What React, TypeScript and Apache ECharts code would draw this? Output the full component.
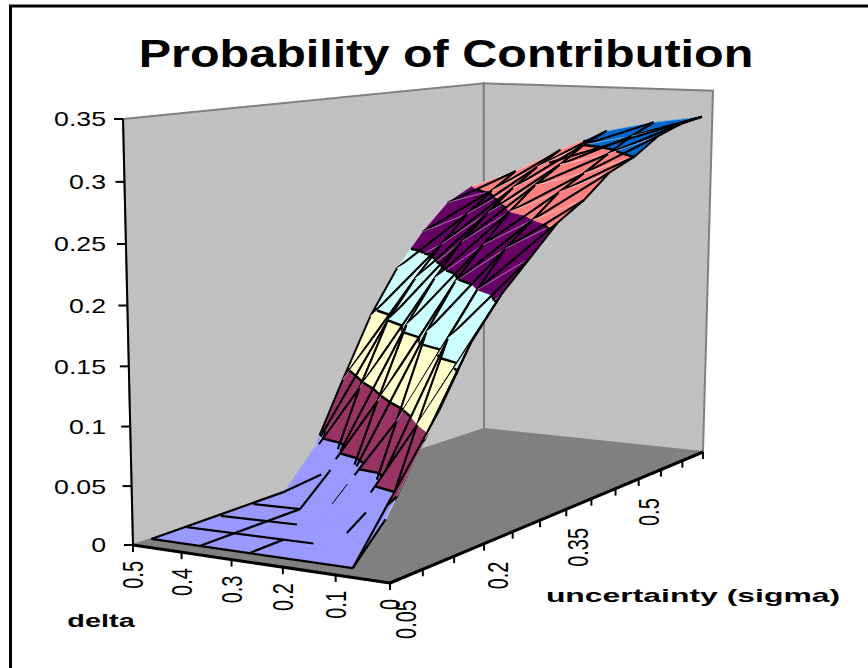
import React, { useEffect, useRef } from "react";
import * as echarts from "echarts";

// Surface samples: one list per delta, one value per sigma.
const sigmaCategories = [0.05, 0.1, 0.15, 0.2, 0.25, 0.3, 0.35, 0.4, 0.45, 0.5, 0.55, 0.6];
const sigmaLabels = ["0.05", "0.2", "0.35", "0.5"];
const deltaTicks = ["0.5", "0.4", "0.3", "0.2", "0.1", "0"];
const valueTicks = ["0", "0.05", "0.1", "0.15", "0.2", "0.25", "0.3", "0.35"];

const delta050 = [0, 0, 0, 0.001, 0.003, 0.035, 0.091, 0.144, 0.184, 0.214, 0.238, 0.25];
const delta040 = [0, 0, 0.001, 0.002, 0.028, 0.095, 0.15, 0.183, 0.21, 0.234, 0.252, 0.267];
const delta030 = [0, 0.001, 0.004, 0.03, 0.095, 0.156, 0.192, 0.22, 0.242, 0.261, 0.277, 0.29];
const delta020 = [0, 0.001, 0.02, 0.09, 0.16, 0.198, 0.225, 0.25, 0.27, 0.285, 0.3, 0.31];
const delta010 = [0, 0.03, 0.1, 0.165, 0.2, 0.23, 0.25, 0.27, 0.283, 0.297, 0.31, 0.32];
const delta000 = [null, 0.125, 0.172, 0.205, 0.23, 0.255, 0.27, 0.29, 0.3, 0.315, 0.323, 0.327];
const surface: (number | null)[][] = [delta050, delta040, delta030, delta020, delta010, delta000];

const bandColors = ["#9999FF", "#993366", "#FFFFCC", "#CCFFFF", "#660066", "#FF8080", "#0066CC"];
const bandStep = 0.05;

// Wire lines on the low part of the surface and along its far edge:
// [delta from, sigma from, delta to, sigma to, start fraction, end fraction, width], in grid indices.
const wireLines = [
  [0, 0, 4, 0, 0, 1, 2.2],
  [0, 0, 0, 4, 0, 1, 2.2],
  [1, 0, 1, 3, 0, 1, 2.2],
  [1, 3, 1, 4, 0, 1, 2.2],
  [0, 4, 1, 4, 0, 0.8, 2.2],
  [2, 0, 2, 1, 0, 1, 2.2],
  [0, 1, 2, 1, 0, 1.3, 2.2],
  [0, 2, 1, 2, 0, 1.6, 2.2],
  [0, 3, 1, 3, 0, 1, 2.2],
  [4, 0, 4, 1, 0, 1, 2.2],
  [4, 0, 5, 1, 0, 0.45, 2.2],
  [3, 1, 3, 2, 0.4, 1, 2.2],
  [2, 2, 2, 3, 0.5, 1, 1],
  [0, 11, 5, 11, 0.35, 1, 2.2],
];

const WIDTH = 868;
const HEIGHT = 668;

// Box corners of the 3D plot on the page.
const FRONT = [390, 583];
const RIGHT = [703, 452];
const BACK = [484, 429];
const LEFT = [133, 545];
const VERTICAL_VANISH = [393, 11634];
const LEFT_TOP_Y = 119;
const VALUE_MAX = 0.35;
const LINE_FLOOR = 0.045;

function makeProjection() {
  const [x0, y0] = FRONT, [x1, y1] = RIGHT, [x2, y2] = BACK, [x3, y3] = LEFT;
  const dx1 = x1 - x2, dx2 = x3 - x2, sx = x0 - x1 + x2 - x3;
  const dy1 = y1 - y2, dy2 = y3 - y2, sy = y0 - y1 + y2 - y3;
  const den = dx1 * dy2 - dx2 * dy1;
  const g = (sx * dy2 - dx2 * sy) / den;
  const h = (dx1 * sy - sx * dy1) / den;
  const a = x1 - x0 + g * x1, b = x3 - x0 + h * x3, c = x0;
  const d = y1 - y0 + g * y1, e = y3 - y0 + h * y3, f = y0;
  const k = (LEFT_TOP_Y * (h + 1) - (e + f)) / (VERTICAL_VANISH[1] - LEFT_TOP_Y) / VALUE_MAX;
  return (u: number, v: number, w: number) => {
    // Height gain varies slightly over the floor, so the wall tops meet their corners.
    const kw = k * w * (0.99 + 0.027 * u + 0.01 * v);
    const W = g * u + h * v + 1 + kw;
    return [
      (a * u + b * v + c + kw * VERTICAL_VANISH[0]) / W - (3 * u * v * w) / VALUE_MAX,
      (d * u + e * v + f + kw * VERTICAL_VANISH[1]) / W,
    ];
  };
}
const project = makeProjection();

// Grid index to box coordinates: sigma cells are centred between ticks, delta sits on its ticks.
const sigmaPos = (s: number) => (s + 0.5) / sigmaCategories.length;
const deltaPos = (d: number) => 1 - d / (deltaTicks.length - 1);

type Vertex = { d: number; s: number; w: number };
const vertex = (d: number, s: number): Vertex | null => {
  const w = surface[d][s];
  return w === null ? null : { d, s, w };
};
const mix = (p: Vertex, q: Vertex, t: number): Vertex => ({
  d: p.d + (q.d - p.d) * t,
  s: p.s + (q.s - p.s) * t,
  w: p.w + (q.w - p.w) * t,
});

function clip(poly: Vertex[], level: number, keepAbove: boolean) {
  const out: Vertex[] = [];
  poly.forEach((p, i) => {
    const q = poly[(i + 1) % poly.length];
    const pIn = keepAbove ? p.w >= level : p.w <= level;
    const qIn = keepAbove ? q.w >= level : q.w <= level;
    if (pIn) out.push(p);
    if (pIn !== qIn) out.push(mix(p, q, (level - p.w) / (q.w - p.w)));
  });
  return out;
}

// Triangles from the farthest cell to the nearest, so that near cells overpaint far ones.
type Tri = { a: Vertex; b: Vertex; c: Vertex };
const triangles: Tri[] = [];
for (let s = sigmaCategories.length - 2; s >= 0; s--) {
  for (let d = 0; d < deltaTicks.length - 1; d++) {
    const p00 = vertex(d, s), p10 = vertex(d + 1, s), p01 = vertex(d, s + 1), p11 = vertex(d + 1, s + 1);
    if (p00 && p01 && p11) triangles.push({ a: p00, b: p01, c: p11 });
    if (p00 && p10 && p11) triangles.push({ a: p00, b: p11, c: p10 });
  }
}

export default function App() {
  const ref = useRef<HTMLDivElement>(null);

  useEffect(() => {
    document.body.style.margin = "0";
    const chart = echarts.init(ref.current!, undefined, { renderer: "svg" });

    const pt = (u: number, v: number, w: number) => project(u, v, w);
    const poly = (points: number[][], fill: string, stroke?: string, lineWidth = 2) => ({
      type: "polygon",
      shape: { points },
      style: { fill, stroke: stroke ?? "none", lineWidth },
    });
    const seg = (p: number[], q: number[], stroke = "#000", lineWidth = 2) => ({
      type: "line",
      shape: { x1: p[0], y1: p[1], x2: q[0], y2: q[1] },
      style: { stroke, lineWidth },
    });
    const txt = (text: string, x: number, y: number, font: string, align: string, extra: object = {}) => ({
      type: "text",
      x,
      y,
      style: { text, font, fill: "#000", textAlign: align, textVerticalAlign: "middle" },
      ...extra,
    });

    const labelFont = '21px "Liberation Sans"';
    const sideFont = '20px "Liberation Sans"';
    const boldSmall = 'bold 19px "Liberation Sans"';

    const frame: any[] = [
      seg([9, 6], [WIDTH, 6], "#000", 3),
      seg([10.5, 5], [10.5, HEIGHT], "#000", 3),
      poly([pt(0, 1, VALUE_MAX), pt(1, 1, VALUE_MAX), pt(1, 1, 0), pt(0, 1, 0)], "#C0C0C0", "#808080"),
      poly([pt(1, 1, VALUE_MAX), pt(1, 0, VALUE_MAX), pt(1, 0, 0), pt(1, 1, 0)], "#C0C0C0", "#808080"),
      poly([pt(0, 1, 0), pt(1, 1, 0), pt(1, 0, 0), pt(0, 0, 0)], "#808080", "#808080", 1),
      txt("Probability of Contribution", 446, 53, 'bold 39px "Liberation Sans"', "center", { scaleX: 1.245 }),
      txt("delta", 101, 620, boldSmall, "center", { scaleX: 1.52 }),
      txt("uncertainty (sigma)", 693, 595, boldSmall, "center", { scaleX: 1.68 }),
    ];

    // Value axis, up the left edge of the box.
    const left = pt(0, 1, 0), leftTop = pt(0, 1, VALUE_MAX);
    frame.push(seg(left, leftTop));
    valueTicks.forEach((label) => {
      const p = pt(0, 1, Number(label));
      frame.push(seg([p[0] - 9, p[1]], p));
      frame.push(txt(label, 106, p[1], labelFont, "right", { scaleX: 1.27 }));
    });

    // Delta axis, along the front-left floor edge.
    frame.push(seg(pt(0, 1, 0), pt(0, 0, 0), "#000", 3));
    deltaTicks.forEach((label, i) => {
      const p = pt(0, deltaPos(i), 0);
      frame.push(seg(p, [p[0], p[1] + 7]));
      frame.push({
        ...txt(label, p[0], p[1] + 16, sideFont, "right"),
        rotation: Math.PI / 2,
        scaleY: 1.45,
      });
    });

    // Sigma axis, along the front-right floor edge; a label on every third category.
    frame.push(seg(pt(0, 0, 0), pt(1, 0, 0), "#000", 3));
    for (let i = 0; i <= sigmaCategories.length; i++) {
      const p = pt(i / sigmaCategories.length, 0, 0);
      frame.push(seg(p, [p[0], p[1] + 7]));
    }
    sigmaLabels.forEach((label) => {
      const i = sigmaCategories.indexOf(Number(label));
      const p = pt(sigmaPos(i), 0, 0);
      frame.push({
        ...txt(label, p[0] - 1, p[1] + 24, sideFont, "right"),
        rotation: Math.PI / 2,
        scaleY: 1.45,
      });
    });

    const at = (api: any, v: Vertex) => api.coord(project(sigmaPos(v.s), deltaPos(v.d), v.w));

    // Black wire segment, kept only where the surface has lifted clear of the floor.
    const wire = (api: any, p: Vertex, q: Vertex, width = 2) => {
      if (p.w < LINE_FLOOR && q.w < LINE_FLOOR) return null;
      let from = p, to = q;
      if (from.w < LINE_FLOOR) from = mix(p, q, (LINE_FLOOR - p.w) / (q.w - p.w));
      if (to.w < LINE_FLOOR) to = mix(p, q, (LINE_FLOOR - p.w) / (q.w - p.w));
      return seg(at(api, from), at(api, to), "#000", width);
    };

    const renderTriangle = (params: any, api: any) => {
      const tri = triangles[api.value(0)];
      const children: any[] = [];
      const corners = [tri.a, tri.b, tri.c];

      bandColors.forEach((color, i) => {
        const lo = i * bandStep, hi = (i + 1) * bandStep;
        let piece = clip(corners, lo, true);
        if (piece.length) piece = clip(piece, hi, false);
        if (piece.length >= 3) {
          children.push({
            type: "polygon",
            shape: { points: piece.map((v) => at(api, v)) },
            style: { fill: color, stroke: color, lineWidth: 0.5 },
          });
        }
      });

      const edges: [Vertex, Vertex][] = [[tri.a, tri.b], [tri.b, tri.c], [tri.c, tri.a]];
      edges.forEach(([p, q]) => {
        if (p.s === q.s) {
          // Faint lines across the surface at constant sigma.
          if (Math.max(p.w, q.w) > LINE_FLOOR) children.push(seg(at(api, p), at(api, q), "rgba(255,255,255,0.35)", 1));
          return;
        }
        // The high part of the rear edge carries no wire line.
        if (p.d === 0 && q.d === 0 && Math.max(p.w, q.w) > 0.2) return;
        const line = wire(api, p, q);
        if (line) children.push(line);
      });

      // Black contour where the surface crosses from one colour band into the next.
      for (let i = 1; i < bandColors.length; i++) {
        const level = i * bandStep;
        const hits: Vertex[] = [];
        edges.forEach(([p, q]) => {
          if ((p.w - level) * (q.w - level) < 0) hits.push(mix(p, q, (level - p.w) / (q.w - p.w)));
        });
        if (hits.length === 2) children.push(seg(at(api, hits[0]), at(api, hits[1]), "#000", 2.5));
      }
      return { type: "group", children };
    };

    const renderWireLine = (params: any, api: any) => {
      const [d0, s0, d1, s1, t0, t1, width] = wireLines[api.value(0)];
      const start = vertex(d0, s0)!, end = vertex(d1, s1)!;
      return seg(at(api, mix(start, end, t0)), at(api, mix(start, end, t1)), "#000", width);
    };

    chart.setOption({
      animation: false,
      backgroundColor: "#fff",
      grid: { left: 0, top: 0, width: WIDTH, height: HEIGHT },
      xAxis: { type: "value", min: 0, max: WIDTH, show: false },
      yAxis: { type: "value", min: 0, max: HEIGHT, inverse: true, show: false },
      graphic: { elements: frame },
      series: [
        {
          type: "custom",
          renderItem: renderTriangle,
          data: triangles.map((_, i) => [i]),
          encode: { x: 0 },
          clip: false,
          silent: true,
        },
        {
          type: "custom",
          renderItem: renderWireLine,
          data: wireLines.map((_, i) => [i]),
          encode: { x: 0 },
          clip: false,
          silent: true,
        },
      ],
    });
    return () => chart.dispose();
  }, []);

  return <div ref={ref} style={{ position: "absolute", left: 0, top: 0, width: WIDTH, height: HEIGHT }} />;
}
